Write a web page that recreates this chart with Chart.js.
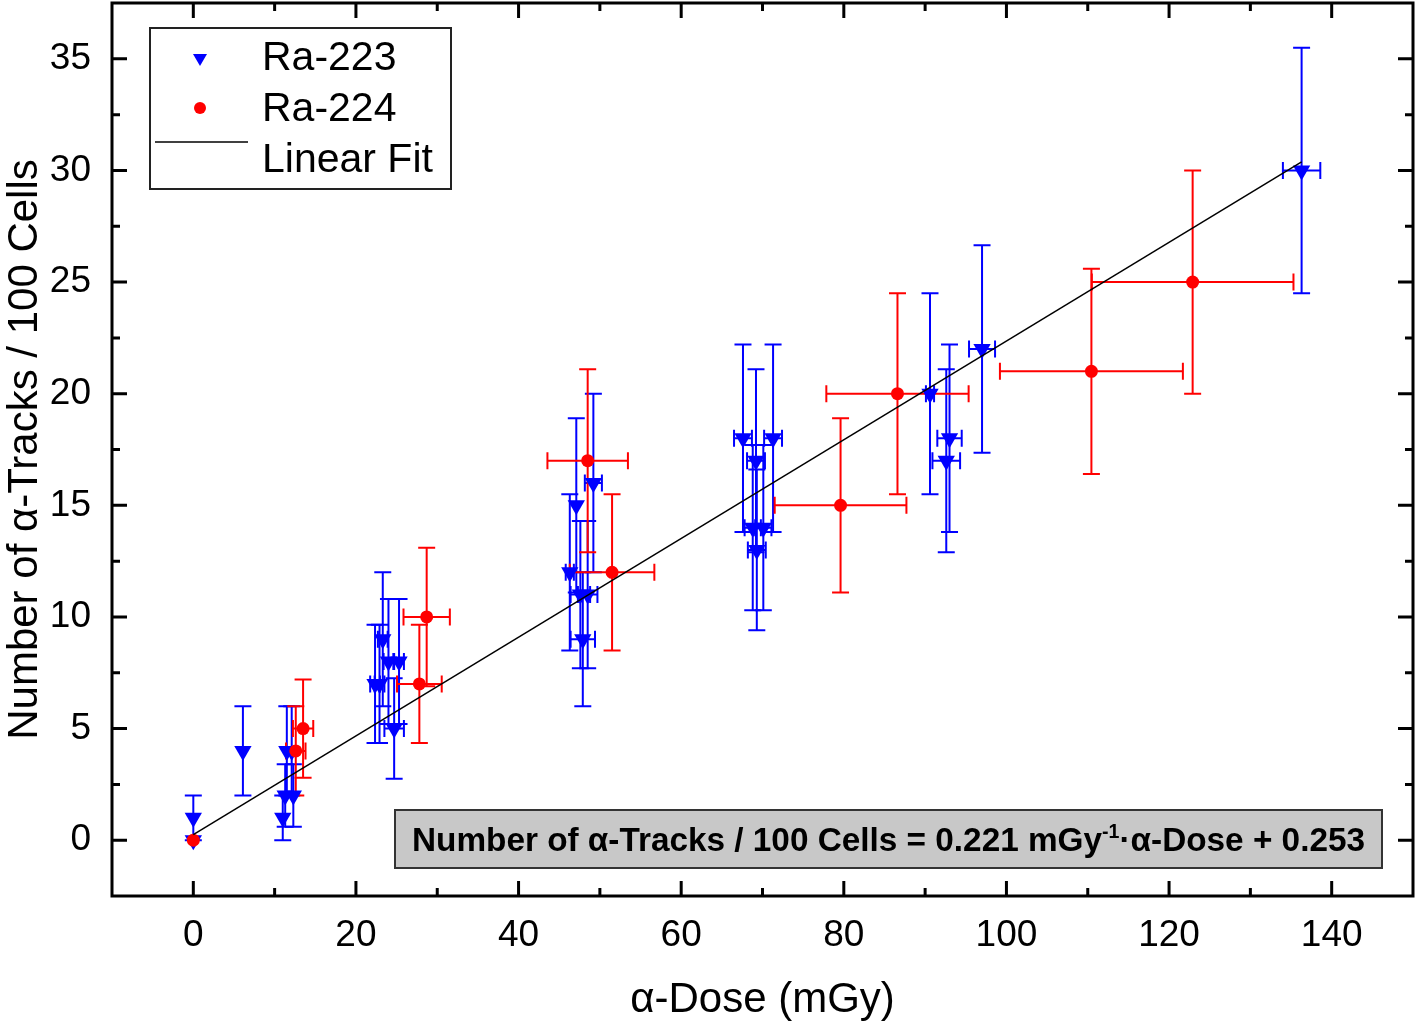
<!DOCTYPE html>
<html>
<head>
    <title>alpha-Tracks vs alpha-Dose</title>
    <script src="https://cdn.jsdelivr.net/npm/chart.js"></script>
    <style>
        body { margin: 0; background: #fff; }
        .chart-container { width: 1417px; height: 1028px; }
    </style>
</head>
<body>
    <div class="chart-container">
        <canvas id="doseChart" width="1417" height="1028"></canvas>
    </div>

    <script>
        const ra223X    = [0, 0, 6.1, 11.0, 11.3, 12.3, 11.5, 12.1, 23.3, 24.0, 25.3, 22.35, 22.9, 24.7,
                           49.2, 47.1, 46.3, 47.6, 48.5, 47.9, 67.6, 71.3, 69.2, 68.8, 70.1, 69.3,
                           90.6, 97.0, 93.0, 92.6, 136.3];
        const ra223Y    = [0, 1, 4, 1, 2, 2, 4, 4, 9, 8, 8, 7, 7, 5,
                           16, 15, 12, 11, 11, 9, 18, 18, 17, 14, 14, 13,
                           20, 22, 18, 17, 30];
        const ra223Xerr = [0, 0, 0, 0, 0, 0, 0, 0, 0.6, 0.6, 0.6, 0.6, 0.6, 1.2,
                           1.05, 0, 0.5, 1.2, 1.2, 1.5, 1.1, 1.1, 1.1, 1.0, 1.0, 1.1,
                           0.5, 1.6, 1.5, 1.7, 2.3];
        const ra223Yerr = [0, 1, 2, 1, 1.4, 1.4, 2, 2, 3, 2.8, 2.8, 2.65, 2.65, 2.25,
                           4, 3.9, 3.5, 3.3, 3.3, 3, 4.2, 4.2, 4.1, 3.7, 3.7, 3.6,
                           4.5, 4.65, 4.2, 4.1, 5.5];

        // Ra-224 measurements
        const ra224X    = [0, 12.6, 13.5, 27.8, 28.7, 48.5, 51.5, 79.6, 86.6, 110.45, 122.9];
        const ra224Y    = [0, 4, 5, 7, 10, 17, 12, 15, 20, 21, 25];
        const ra224Xerr = [0, 1.2, 1.25, 2.75, 2.85, 4.95, 5.2, 8.1, 8.75, 11.25, 12.4];
        const ra224Yerr = [0, 2, 2.2, 2.65, 3.1, 4.1, 3.5, 3.9, 4.5, 4.6, 5.0];

        // linear fit end points
        const fitX = [0, 136.3];
        const fitY = [0.253, 30.38];

        const xTickValues = [0, 20, 40, 60, 80, 100, 120, 140];
        const xMinorValues = [10, 30, 50, 70, 90, 110, 130];
        const yTickValues = [0, 5, 10, 15, 20, 25, 30, 35];
        const yMinorValues = [2.5, 7.5, 12.5, 17.5, 22.5, 27.5, 32.5];

        const BLUE = '#0000ff';
        const RED = '#ff0000';
        const FONT = 'Arial, "Liberation Sans", sans-serif';

        function toPoints(xs, ys) {
            return xs.map((x, i) => ({ x: x, y: ys[i] }));
        }

        function drawErrors(ctx, xs, ys, xe, ye, color, sx, sy) {
            const cap = 8.5;
            ctx.strokeStyle = color;
            ctx.lineWidth = 2;
            for (let i = 0; i < xs.length; i++) {
                const px = sx.getPixelForValue(xs[i]);
                const py = sy.getPixelForValue(ys[i]);
                ctx.beginPath();
                if (ye[i] > 0) {
                    const t = sy.getPixelForValue(ys[i] + ye[i]);
                    const b = sy.getPixelForValue(ys[i] - ye[i]);
                    ctx.moveTo(px, t); ctx.lineTo(px, b);
                    ctx.moveTo(px - cap, t); ctx.lineTo(px + cap, t);
                    ctx.moveTo(px - cap, b); ctx.lineTo(px + cap, b);
                }
                if (xe[i] > 0) {
                    const l = sx.getPixelForValue(xs[i] - xe[i]);
                    const r = sx.getPixelForValue(xs[i] + xe[i]);
                    ctx.moveTo(l, py); ctx.lineTo(r, py);
                    ctx.moveTo(l, py - cap); ctx.lineTo(l, py + cap);
                    ctx.moveTo(r, py - cap); ctx.lineTo(r, py + cap);
                }
                ctx.stroke();
            }
        }

        const errorBars = {
            id: 'errorBars',
            beforeDatasetsDraw(chart) {
                const { ctx, chartArea, scales } = chart;
                ctx.save();
                ctx.beginPath();
                ctx.rect(chartArea.left, chartArea.top, chartArea.width, chartArea.height);
                ctx.clip();
                drawErrors(ctx, ra223X, ra223Y, ra223Xerr, ra223Yerr, BLUE, scales.x, scales.y);
                drawErrors(ctx, ra224X, ra224Y, ra224Xerr, ra224Yerr, RED, scales.x, scales.y);
                ctx.restore();
            }
        };

        // frame, inward ticks, equation box and legend
        const frameAndLegend = {
            id: 'frameAndLegend',
            afterDatasetsDraw(chart) {
                const { ctx, chartArea: a, scales } = chart;
                ctx.save();
                ctx.strokeStyle = '#000';
                ctx.lineWidth = 3;
                ctx.strokeRect(a.left, a.top, a.width, a.height);

                ctx.beginPath();
                const tick = (vals, len) => {
                    vals.forEach(v => {
                        const px = scales.x.getPixelForValue(v);
                        ctx.moveTo(px, a.bottom); ctx.lineTo(px, a.bottom - len);
                        ctx.moveTo(px, a.top); ctx.lineTo(px, a.top + len);
                    });
                };
                const tickY = (vals, len) => {
                    vals.forEach(v => {
                        const py = scales.y.getPixelForValue(v);
                        ctx.moveTo(a.left, py); ctx.lineTo(a.left + len, py);
                        ctx.moveTo(a.right, py); ctx.lineTo(a.right - len, py);
                    });
                };
                tick(xTickValues, 15);
                tick(xMinorValues, 8);
                tickY(yTickValues, 15);
                tickY(yMinorValues, 8);
                ctx.stroke();

                // equation box
                const bx = a.right - 31 - 987, by = a.bottom - 28 - 58;
                ctx.fillStyle = '#c8c8c8';
                ctx.fillRect(bx, by, 987, 58);
                ctx.strokeStyle = '#333';
                ctx.lineWidth = 2;
                ctx.strokeRect(bx, by, 987, 58);

                const mainFont = 'bold 34px ' + FONT;
                const supFont = 'bold 20px ' + FONT;
                const p1 = 'Number of \u03b1-Tracks / 100 Cells = 0.221 mGy';
                const p2 = '-1';
                const p3 = '\u00b7\u03b1-Dose + 0.253';
                ctx.font = mainFont;
                const w1 = ctx.measureText(p1).width, w3 = ctx.measureText(p3).width;
                ctx.font = supFont;
                const w2 = ctx.measureText(p2).width;
                const targetW = 953;
                const k = targetW / (w1 + w2 + w3);
                ctx.translate(bx + (987 - targetW) / 2, by + 41);
                ctx.scale(k, 1);
                ctx.fillStyle = '#000';
                ctx.textBaseline = 'alphabetic';
                ctx.font = mainFont;
                ctx.fillText(p1, 0, 0);
                ctx.font = supFont;
                ctx.fillText(p2, w1, -13);
                ctx.font = mainFont;
                ctx.fillText(p3, w1 + w2, 0);
                ctx.setTransform(1, 0, 0, 1, 0, 0);

                // legend
                const lx = a.left + 38, ly = a.top + 25;
                ctx.fillStyle = '#fff';
                ctx.fillRect(lx, ly, 301, 161);
                ctx.strokeStyle = '#222';
                ctx.lineWidth = 2;
                ctx.strokeRect(lx, ly, 301, 161);

                ctx.fillStyle = BLUE;
                ctx.beginPath();
                ctx.moveTo(lx + 43, ly + 26);
                ctx.lineTo(lx + 57, ly + 26);
                ctx.lineTo(lx + 50, ly + 38);
                ctx.closePath();
                ctx.fill();

                ctx.fillStyle = RED;
                ctx.beginPath();
                ctx.arc(lx + 50, ly + 80, 6, 0, Math.PI * 2);
                ctx.fill();

                ctx.strokeStyle = '#000';
                ctx.lineWidth = 1.5;
                ctx.beginPath();
                ctx.moveTo(lx + 5, ly + 114);
                ctx.lineTo(lx + 98, ly + 114);
                ctx.stroke();

                ctx.fillStyle = '#000';
                ctx.font = '41px ' + FONT;
                ctx.textBaseline = 'middle';
                ctx.fillText('Ra-223', lx + 112, ly + 31);
                ctx.fillText('Ra-224', lx + 112, ly + 82);
                ctx.fillText('Linear Fit', lx + 112, ly + 133);
                ctx.restore();
            }
        };

        const chart = new Chart(document.getElementById('doseChart').getContext('2d'), {
            type: 'scatter',
            data: {
                datasets: [
                    {
                        label: 'Linear Fit',
                        type: 'line',
                        data: toPoints(fitX, fitY),
                        borderColor: '#000',
                        borderWidth: 1.5,
                        pointRadius: 0,
                        fill: false
                    },
                    {
                        label: 'Ra-224',
                        data: toPoints(ra224X, ra224Y),
                        backgroundColor: RED,
                        borderColor: RED,
                        borderWidth: 0,
                        pointStyle: 'circle',
                        pointRadius: 6.5
                    },
                    {
                        label: 'Ra-223',
                        data: toPoints(ra223X, ra223Y),
                        backgroundColor: BLUE,
                        borderColor: BLUE,
                        borderWidth: 0,
                        pointStyle: 'triangle',
                        rotation: 180,
                        pointRadius: 10
                    }
                ]
            },
            options: {
                responsive: false,
                animation: false,
                layout: { autoPadding: false, padding: { top: 3, right: 4, left: 0, bottom: 0 } },
                plugins: {
                    legend: { display: false },
                    tooltip: { enabled: false }
                },
                scales: {
                    x: {
                        type: 'linear',
                        min: -10,
                        max: 150,
                        grid: { display: false, drawTicks: false },
                        border: { display: false },
                        afterBuildTicks: s => { s.ticks = xTickValues.map(v => ({ value: v })); },
                        afterFit: s => { s.height = 132; s.paddingLeft = 0; s.paddingRight = 0; },
                        ticks: { color: '#000', font: { family: FONT, size: 37 }, padding: 18 },
                        title: {
                            display: true,
                            text: '\u03b1-Dose (mGy)',
                            color: '#000',
                            font: { family: FONT, size: 42 },
                            padding: { top: 0, bottom: 2 }
                        }
                    },
                    y: {
                        type: 'linear',
                        min: -2.5,
                        max: 37.5,
                        grid: { display: false, drawTicks: false },
                        border: { display: false },
                        afterBuildTicks: s => { s.ticks = yTickValues.map(v => ({ value: v })); },
                        afterFit: s => { s.width = 112; s.paddingTop = 0; s.paddingBottom = 0; },
                        ticks: { color: '#000', font: { family: FONT, size: 37 }, padding: 21 },
                        title: {
                            display: true,
                            text: 'Number of \u03b1-Tracks / 100 Cells',
                            color: '#000',
                            font: { family: FONT, size: 42 },
                            padding: { top: 0, bottom: 0 }
                        }
                    }
                }
            },
            plugins: [errorBars, frameAndLegend]
        });
    </script>
</body>
</html>
